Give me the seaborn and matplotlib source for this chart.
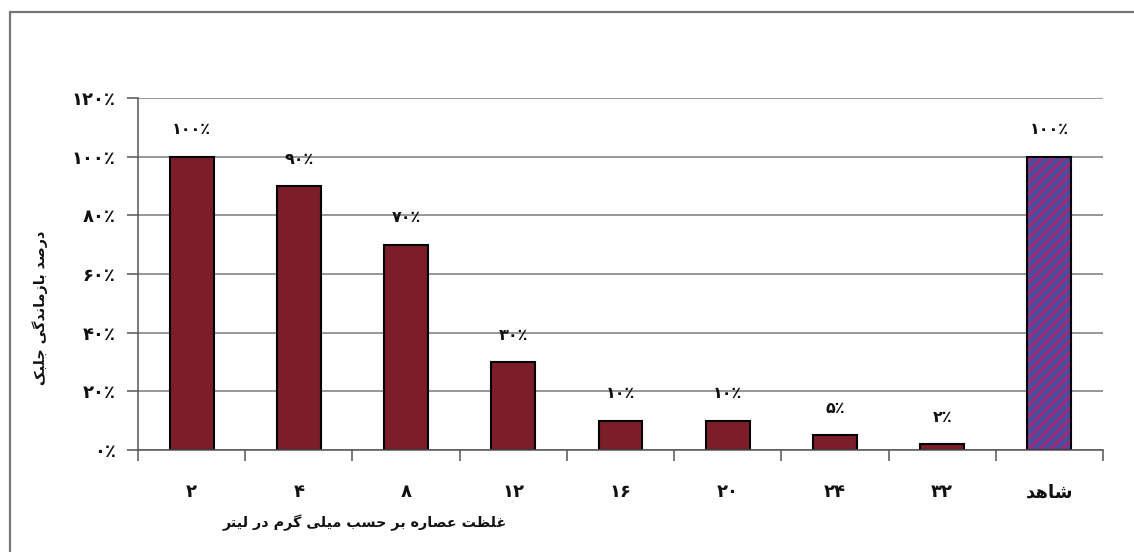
import numpy as np
import pandas as pd
import matplotlib
matplotlib.use("Agg")
import matplotlib.pyplot as plt
import seaborn as sns
from matplotlib.patches import Rectangle
from matplotlib.lines import Line2D

# ---------------- data ----------------
categories = ["۲", "۴", "۸", "۱۲", "۱۶", "۲۰", "۲۴", "۳۲", "شاهد"]
values = [100, 90, 70, 30, 10, 10, 5, 2, 100]
value_labels = ["۱۰۰٪", "۹۰٪", "۷۰٪", "۳۰٪", "۱۰٪", "۱۰٪", "۵٪", "۲٪", "۱۰۰٪"]
y_ticks = [0, 20, 40, 60, 80, 100, 120]
y_tick_labels = ["۰٪", "۲۰٪", "۴۰٪", "۶۰٪", "۸۰٪", "۱۰۰٪", "۱۲۰٪"]
x_title = "غلظت عصاره بر حسب میلی گرم در لیتر"
y_title = "درصد بازماندگی جلبک"

# ---------------- minimal Persian shaping ----------------
FORMS = {
    'ا': ('\uFE8D', '\uFE8E', None, None),
    'ب': ('\uFE8F', '\uFE90', '\uFE91', '\uFE92'),
    'ت': ('\uFE95', '\uFE96', '\uFE97', '\uFE98'),
    'ج': ('\uFE9D', '\uFE9E', '\uFE9F', '\uFEA0'),
    'ح': ('\uFEA1', '\uFEA2', '\uFEA3', '\uFEA4'),
    'د': ('\uFEA9', '\uFEAA', None, None),
    'ر': ('\uFEAD', '\uFEAE', None, None),
    'ز': ('\uFEAF', '\uFEB0', None, None),
    'س': ('\uFEB1', '\uFEB2', '\uFEB3', '\uFEB4'),
    'ش': ('\uFEB5', '\uFEB6', '\uFEB7', '\uFEB8'),
    'ص': ('\uFEB9', '\uFEBA', '\uFEBB', '\uFEBC'),
    'ظ': ('\uFEC5', '\uFEC6', '\uFEC7', '\uFEC8'),
    'ع': ('\uFEC9', '\uFECA', '\uFECB', '\uFECC'),
    'غ': ('\uFECD', '\uFECE', '\uFECF', '\uFED0'),
    'ک': ('\uFB8E', '\uFB8F', '\uFB90', '\uFB91'),
    'گ': ('\uFB92', '\uFB93', '\uFB94', '\uFB95'),
    'ل': ('\uFEDD', '\uFEDE', '\uFEDF', '\uFEE0'),
    'م': ('\uFEE1', '\uFEE2', '\uFEE3', '\uFEE4'),
    'ن': ('\uFEE5', '\uFEE6', '\uFEE7', '\uFEE8'),
    'ه': ('\uFEE9', '\uFEEA', '\uFEEB', '\uFEEC'),
    'ی': ('\uFBFC', '\uFBFD', '\uFBFE', '\uFBFF'),
}


def shape(text):
    if not any(c in FORMS for c in text):
        return text
    words = []
    for word in text.split(' '):
        chars = list(word)
        res = []
        for i, c in enumerate(chars):
            if c not in FORMS:
                res.append(c)
                continue
            iso, fin, ini, med = FORMS[c]
            prev = chars[i - 1] if i > 0 else None
            nxt = chars[i + 1] if i + 1 < len(chars) else None
            jp = prev is not None and prev in FORMS and FORMS[prev][2] is not None
            jn = ini is not None and nxt is not None and nxt in FORMS
            if jp and jn:
                g = med
            elif jp:
                g = fin
            elif jn:
                g = ini
            else:
                g = iso
            res.append(g)
        words.append(''.join(res))
    return ' '.join(words)[::-1]


# ---------------- figure ----------------
sns.set_theme(style="white")
plt.rcParams['font.family'] = ['DejaVu Sans']
plt.rcParams['hatch.linewidth'] = 2.2

W, H = 1134, 552
fig = plt.figure(figsize=(W / 100, H / 100), dpi=100)
fig.patch.set_facecolor("white")
ax = fig.add_axes([138 / W, 1 - 450 / H, (1103 - 138) / W, (450 - 98) / H])

bar_red = "#7B1E2A"
ctrl_blue = "#4A4E9C"
palette = {c: bar_red for c in categories}
palette[categories[-1]] = ctrl_blue

df = pd.DataFrame({"cat": categories, "val": values})
sns.barplot(data=df, x="cat", y="val", hue="cat", order=categories,
            palette=palette, legend=False, width=0.41, ax=ax,
            edgecolor="black", linewidth=1.5, saturation=1)

# control bar: hatched look
ctrl_patch = ax.patches[-1]
x0, y0 = ctrl_patch.get_x(), ctrl_patch.get_y()
bw, bh = ctrl_patch.get_width(), ctrl_patch.get_height()
ctrl_patch.set_edgecolor("#A3287A")
ctrl_patch.set_hatch("///")
ctrl_patch.set_linewidth(0)
ax.add_patch(Rectangle((x0, y0), bw, bh, fill=False, edgecolor="black",
                       linewidth=1.5, zorder=ctrl_patch.get_zorder() + 0.1))

# value labels
for i, (v, lab) in enumerate(zip(values, value_labels)):
    ax.annotate(lab, xy=(i, v), xytext=(0, 27), textcoords="offset pixels",
                ha="center", va="center", fontsize=11.5, fontweight="bold",
                color="#111111")

ax.set_xlim(-0.5, len(categories) - 0.5)
ax.set_ylim(0, 120)
ax.set_yticks(y_ticks)
ax.set_yticklabels(y_tick_labels, fontsize=13, fontweight="bold", color="#111111")
ax.yaxis.grid(True, color="#7a7a7a", linewidth=1.1)
ax.set_axisbelow(True)

# x ticks: marks at category boundaries, labels at centers
ax.set_xticks(np.arange(-0.5, len(categories)), minor=False)
ax.set_xticklabels([""] * (len(categories) + 1))
ax.set_xticks(np.arange(len(categories)), minor=True)
ax.set_xticklabels([shape(c) for c in categories], minor=True,
                   fontsize=13, fontweight="bold", color="#111111")
ax.tick_params(axis="x", which="major", direction="out", length=8, width=1.1,
               color="#555555", bottom=True)
ax.tick_params(axis="x", which="minor", length=0, pad=24)
ax.tick_params(axis="y", direction="out", length=8, width=1.1, color="#555555",
               left=True, pad=8)

for s in ["top", "right"]:
    ax.spines[s].set_visible(False)
for s in ["left", "bottom"]:
    ax.spines[s].set_color("#555555")
    ax.spines[s].set_linewidth(1.1)

ax.set_xlabel("")
ax.set_ylabel("")

fig.text(365 / W, 1 - 523 / H, shape(x_title), ha="center", va="center",
         fontsize=10.3, fontweight="bold", color="#111111")
fig.text(40 / W, 1 - 308 / H, shape(y_title), ha="center", va="center",
         rotation=90, fontsize=10.3, fontweight="bold", color="#111111")

# outer frame: only top and left edges are inside the picture
top_y = 1 - 12 / H
left_x = 10 / W
fig.lines.append(Line2D([left_x, 1.0], [top_y, top_y], transform=fig.transFigure,
                        color="#777777", linewidth=1.6))
fig.lines.append(Line2D([left_x, left_x], [0.0, top_y], transform=fig.transFigure,
                        color="#777777", linewidth=1.6))

fig.savefig("out.png", dpi=100, facecolor="white")
